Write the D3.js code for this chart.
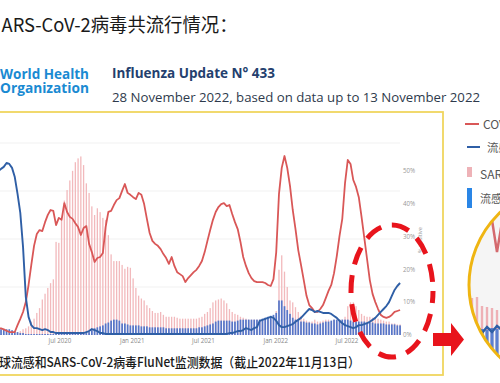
<!DOCTYPE html>
<html><head><meta charset="utf-8">
<script src="https://cdn.jsdelivr.net/npm/d3@7"></script>
<style>body{margin:0;background:#fff;overflow:hidden}svg{display:block}</style>
</head><body><svg id="c" width="500" height="383"></svg>
<script>
// ---------- data ----------
const firstWeek = "2020-01-19"; // weekly data, week-ending dates
const covidPct = [2.1,2.1,2.0,1.7,1.3,0.9,0.9,0.9,3.0,4.9,
 7.0,10.0,15.2,21.3,27.1,30.7,31.9,31.6,34.3,36.5,
 38.0,37.7,33.4,35.6,35.0,40.1,37.4,35.9,35.3,34.0,
 32.8,30.4,32.5,33.1,27.7,25.2,22.2,23.4,23.7,24.9,
 32.8,37.4,37.7,39.5,41.0,41.6,43.8,45.9,43.2,42.6,
 41.9,41.3,43.2,42.6,39.8,35.3,31.0,28.6,27.7,27.1,
 26.1,24.6,23.4,21.6,23.7,21.0,19.1,18.5,17.9,16.1,
 17.3,18.2,19.1,19.8,21.0,22.5,25.2,28.6,31.9,35.0,
 37.4,38.9,39.8,40.1,39.2,39.5,36.8,34.3,32.2,28.3,
 23.7,21.0,18.8,17.3,16.4,16.1,16.1,16.1,15.8,15.2,
 14.9,17.0,25.2,42.9,50.8,54.4,50.8,45.3,38.0,32.2,
 25.8,21.3,16.7,11.9,9.1,8.2,7.0,7.0,7.9,9.1,
 11.2,13.4,15.2,18.8,24.0,30.1,35.3,46.2,53.2,52.0,
 47.1,45.0,41.9,35.9,29.5,23.1,16.7,12.5,10.0,7.9,
 6.1,5.5,5.2,5.5,6.1,7.0,7.3,7.6];
const fluPct = [49.5,49.8,50.5,51.1,52.3,52.0,50.8,48.0,42.9,37.1,
 26.7,11.6,5.5,3.0,2.1,2.1,1.8,1.5,1.8,1.5,
 0.9,0.9,0.6,0.6,0.6,0.6,0.6,0.6,0.6,0.6,
 0.6,0.6,0.6,0.9,1.2,1.8,1.5,1.2,0.6,0.6,
 0.3,0.3,0.3,0.3,0.3,0.3,0.3,0.3,0.3,0.3,
 0.3,0.3,0.3,0.3,0.3,0.3,0.3,0.3,0.3,0.3,
 0.3,0.3,0.3,0.3,0.3,0.3,0.3,0.3,0.3,0.3,
 0.3,0.3,0.3,0.3,0.3,0.3,0.3,0.3,0.3,0.3,
 0.3,0.3,0.3,0.3,0.3,0.6,0.6,0.9,1.2,1.2,
 1.5,2.1,1.8,1.5,2.1,2.4,4.3,4.6,4.9,5.2,
 5.5,5.2,4.3,3.0,2.4,2.4,2.7,3.0,3.3,4.0,
 4.6,5.2,6.1,7.0,7.9,7.6,7.0,7.3,7.0,6.7,
 6.7,6.7,6.4,5.8,5.2,4.3,3.6,3.0,2.7,2.4,
 2.1,2.4,3.0,3.0,3.3,3.6,4.0,4.6,5.2,6.1,
 7.0,7.9,8.8,10.0,11.9,13.7,14.9,15.8];
const covidCount = [1,1,1,1,1,1,1,2,3,4,
 6,7,9,14,17,23,28,37,43,49,
 54,58,97,96,120,140,151,161,171,180,
 184,186,177,158,148,134,125,132,128,122,
 120,104,84,77,77,77,73,69,71,70,
 59,49,41,38,36,31,28,25,23,23,
 24,21,19,19,19,19,18,17,17,17,
 17,17,17,17,18,19,22,24,28,34,
 36,37,38,36,33,27,24,22,21,19,
 18,17,16,16,16,16,16,16,16,16,
 16,19,25,68,83,66,50,36,34,29,
 24,20,17,15,14,14,16,14,14,15,
 16,16,14,16,16,16,16,19,30,34,
 34,30,26,22,20,19,19,18,17,17,
 16,15,14,14,12,12,11,11];
const fluCount = [6,6,6,6,6,6,5,4,3,2,
 2,1,1,1,1,1,1,1,1,1,
 1,1,1,1,1,1,1,1,1,1,
 1,1,1,2,3,5,7,8,9,10,
 12,13,15,16,16,15,12,12,11,10,
 10,10,10,9,9,9,8,8,8,8,
 8,8,7,7,7,7,7,7,7,7,
 7,7,7,7,8,8,9,10,11,12,
 14,15,15,15,15,15,14,14,15,16,
 16,16,16,16,16,16,16,17,18,19,
 20,21,23,36,36,30,26,22,18,16,
 15,14,14,13,13,12,12,11,12,13,
 14,14,15,16,16,16,16,16,16,15,
 14,14,14,14,14,13,13,13,12,12,
 12,12,11,11,11,11,10,10];
const pctTicks = [0,10,20,30,40,50];
const countTicks = [50,100,150,200];
const dateTicks = ["2020-07-01","2021-01-01","2021-07-01","2022-01-01","2022-07-01"];
const legendLabels = ["COVID-19阳性率","流感阳性率","SARS-CoV-2阳性数","流感阳性数"];
// zoomed inset (magnified detail in the circle)
const insetPink = [60,62,63,54,53,52,50,51];
const insetBlueBar = [30,31,32,31,30,32,31,30];
const insetBlueLine = [31,27,34,27,33,28,34,30];
const insetRedLine = [210,200,190,175,160,140,108,138];

// ---------- drawing ----------
const svg = d3.select("#c");
const CJK = "'Noto Sans CJK SC','Noto Sans',sans-serif";
const parse = d3.timeParse("%Y-%m-%d");
const t0 = parse(firstWeek);
const weeks = covidPct.map((_, i) => d3.timeDay.offset(t0, 7 * i));

const x = d3.scaleTime().domain([parse("2020-07-01"), parse("2022-07-01")]).range([60, 347]);
const yPct = d3.scaleLinear().domain([0, 50]).range([335, 170.5]);
const yCnt = d3.scaleLinear().domain([0, 200]).range([335, 143]);

// title (its first characters run off the left edge, as in the slide)
svg.append("text").attr("x", 0).attr("y", 32).attr("text-anchor", "end").attr("font-family", CJK)
  .attr("font-size", 19).attr("fill", "#1a1a1a").text("流感与S");
svg.append("text").attr("x", 1.5).attr("y", 32).attr("font-family", CJK).attr("font-size", 19)
  .attr("fill", "#1a1a1a").attr("textLength", 236).attr("lengthAdjust", "spacingAndGlyphs")
  .text("ARS-CoV-2病毒共流行情况：");

// WHO logo text
svg.append("text").attr("x", 0).attr("y", 78.5).attr("font-family", "'Open Sans',sans-serif")
  .attr("font-weight", 700).attr("font-size", 15).attr("fill", "#1a8ad2")
  .attr("textLength", 89).attr("lengthAdjust", "spacingAndGlyphs").text("World Health");
svg.append("text").attr("x", 0).attr("y", 93).attr("font-family", "'Open Sans',sans-serif")
  .attr("font-weight", 700).attr("font-size", 15).attr("fill", "#1a8ad2")
  .attr("textLength", 89).attr("lengthAdjust", "spacingAndGlyphs").text("Organization");
svg.append("text").attr("x", 112).attr("y", 78).attr("font-family", "'Open Sans',sans-serif")
  .attr("font-weight", 700).attr("font-size", 14.5).attr("fill", "#243f6e")
  .attr("textLength", 163).attr("lengthAdjust", "spacingAndGlyphs").text("Influenza Update N° 433");
svg.append("text").attr("x", 112).attr("y", 101.5).attr("font-family", "'Open Sans',sans-serif")
  .attr("font-size", 12).attr("fill", "#2e3a4c")
  .attr("textLength", 368).attr("lengthAdjust", "spacingAndGlyphs")
  .text("28 November 2022, based on data up to 13 November 2022");

// yellow frame
svg.append("rect").attr("x", -5).attr("y", 112).attr("width", 448).attr("height", 263)
  .attr("fill", "none").attr("stroke", "#f0d55e").attr("stroke-width", 1.8);

// gridlines
svg.append("g").selectAll("line").data(countTicks).join("line")
  .attr("x1", 0).attr("x2", 400).attr("y1", d => yCnt(d)).attr("y2", d => yCnt(d))
  .attr("stroke", "#eeeeee").attr("stroke-width", 0.8);

// bars
const plot = svg.append("g");
plot.selectAll("rect.pk").data(covidCount).join("rect").attr("class", "pk")
  .attr("x", (d, i) => x(weeks[i]) - 0.65).attr("width", 1.3)
  .attr("y", d => yCnt(d)).attr("height", d => yCnt(0) - yCnt(d)).attr("fill", "#f2b9bc");
plot.selectAll("rect.bl").data(fluCount).join("rect").attr("class", "bl")
  .attr("x", (d, i) => x(weeks[i]) - 0.85).attr("width", 1.7)
  .attr("y", d => yCnt(d)).attr("height", d => yCnt(0) - yCnt(d)).attr("fill", "#5576c9");

// lines
const line = d3.line().x((d, i) => x(weeks[i])).y(d => yPct(d));
plot.append("path").datum(covidPct).attr("d", line).attr("fill", "none")
  .attr("stroke", "#d95757").attr("stroke-width", 1.8).attr("stroke-linejoin", "round");
plot.append("path").datum(fluPct).attr("d", line).attr("fill", "none")
  .attr("stroke", "#2f5fa6").attr("stroke-width", 1.9).attr("stroke-linejoin", "round");

// axes labels
svg.append("g").selectAll("text").data(dateTicks).join("text")
  .attr("x", d => x(parse(d))).attr("y", 343).attr("text-anchor", "middle")
  .attr("font-family", "'Open Sans',sans-serif").attr("font-size", 6.2).attr("fill", "#888")
  .text(d => d3.timeFormat("%b %Y")(parse(d)));
svg.append("g").selectAll("text").data(pctTicks).join("text")
  .attr("x", 403).attr("y", d => yPct(d) + 2.3)
  .attr("font-family", "'Open Sans',sans-serif").attr("font-size", 6.2).attr("fill", "#999")
  .text(d => d + "%");
svg.append("text").attr("transform", "translate(422,240) rotate(-90)").attr("text-anchor", "middle")
  .attr("font-family", "'Open Sans',sans-serif").attr("font-size", 5.5).attr("fill", "#999")
  .text("% positive");

// caption (first character runs off the left edge)
svg.append("text").attr("x", -1).attr("y", 367).attr("text-anchor", "end").attr("font-family", CJK)
  .attr("font-size", 13).attr("font-weight", 500).attr("fill", "#1a1a1a").text("全");
svg.append("text").attr("x", -1).attr("y", 367).attr("font-family", CJK).attr("font-size", 13)
  .attr("font-weight", 500).attr("fill", "#1a1a1a").attr("textLength", 361)
  .attr("lengthAdjust", "spacingAndGlyphs")
  .text("球流感和SARS-CoV-2病毒FluNet监测数据（截止2022年11月13日）");

// dashed ellipse
svg.append("ellipse").attr("cx", 392).attr("cy", 291).attr("rx", 41).attr("ry", 66)
  .attr("fill", "none").attr("stroke", "#e8141c").attr("stroke-width", 5)
  .attr("stroke-dasharray", "18 11").attr("stroke-dashoffset", 6);

// arrow
svg.append("path").attr("d", "M433,333H451V323L464,339.5L451,356V346H433Z").attr("fill", "#e8141c");

// legend
const lg = svg.append("g");
lg.append("line").attr("x1", 465).attr("x2", 479).attr("y1", 124).attr("y2", 124)
  .attr("stroke", "#d95757").attr("stroke-width", 2);
lg.append("line").attr("x1", 467).attr("x2", 480).attr("y1", 147).attr("y2", 147)
  .attr("stroke", "#2f5fa6").attr("stroke-width", 2);
lg.append("rect").attr("x", 467).attr("y", 167).attr("width", 5).attr("height", 10).attr("fill", "#eeb2b7");
lg.append("rect").attr("x", 467).attr("y", 188).attr("width", 5).attr("height", 20).attr("fill", "#2a86e6");
const lpos = [[483, 128.5, 12], [487, 152, 11.5], [480, 178.5, 12], [480, 203, 11]];
lg.selectAll("text").data(legendLabels).join("text")
  .attr("x", (d, i) => lpos[i][0]).attr("y", (d, i) => lpos[i][1])
  .attr("font-family", CJK).attr("font-size", (d, i) => lpos[i][2]).attr("fill", "#555")
  .text(d => d);

// magnified inset circle
const defs = svg.append("defs");
defs.append("clipPath").attr("id", "cc").append("circle").attr("cx", 569).attr("cy", 285).attr("r", 100);
svg.append("circle").attr("cx", 569).attr("cy", 285).attr("r", 100).attr("fill", "#f5f5f5");
const ix = d3.scalePoint().domain(d3.range(insetPink.length)).range([467, 502]);
const iy = d3.scaleLinear().domain([0, 100]).range([360, 260]);
const ig = svg.append("g").attr("clip-path", "url(#cc)");
ig.selectAll("rect.ip").data(insetPink).join("rect").attr("x", (d, i) => ix(i) - 1.2).attr("width", 2.4)
  .attr("y", d => iy(d)).attr("height", d => iy(0) - iy(d)).attr("fill", "#eeb0b5");
ig.selectAll("rect.ib").data(insetBlueBar).join("rect").attr("x", (d, i) => ix(i) - 1.6).attr("width", 3.2)
  .attr("y", d => iy(d)).attr("height", d => iy(0) - iy(d)).attr("fill", "#5b7fd0");
const iline = d3.line().x((d, i) => ix(i)).y(d => iy(d));
ig.append("path").datum(insetBlueLine).attr("d", iline).attr("fill", "none")
  .attr("stroke", "#2f5fa6").attr("stroke-width", 2.5);
ig.append("path").datum(insetRedLine).attr("d", iline).attr("fill", "none")
  .attr("stroke", "#d46a6e").attr("stroke-width", 2.5);
svg.append("circle").attr("cx", 569).attr("cy", 285).attr("r", 100).attr("fill", "none")
  .attr("stroke", "#efb512").attr("stroke-width", 3);
</script></body></html>
